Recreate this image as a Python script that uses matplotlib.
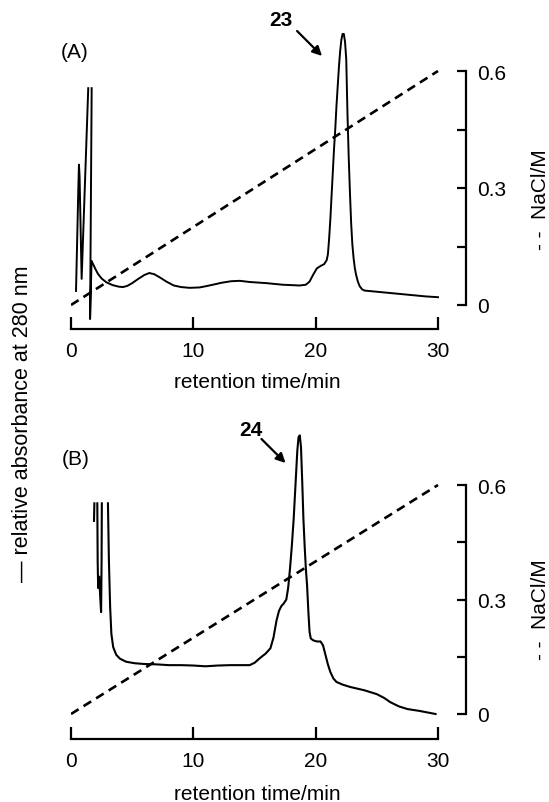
import numpy as np
import matplotlib
matplotlib.use('Agg')
import matplotlib.pyplot as plt

plt.rcParams['font.family'] = ['Liberation Sans', 'DejaVu Sans']

# ---------------- data ----------------
nan = np.nan
# Panel A absorbance trace (relative units on the NaCl scale)
time_a = [0.41, 0.60, 0.65, 0.70, 0.87, 1.41, nan, 1.69, 1.56, 1.68, 1.80, 2.00, 2.20, 2.50, 2.90, 3.40,
          3.90, 4.25, 4.60, 5.00, 5.50, 6.00, 6.40, 6.80, 7.30, 7.80, 8.40, 9.00, 9.70, 10.5, 11.0,
          11.6, 12.3, 13.1, 13.8, 14.6, 16.0, 17.3, 18.7, 19.2, 19.5, 19.8, 20.1, 20.4, 20.7, 20.9,
          21.0, 21.1, 21.2, 21.3, 21.4, 21.5, 21.6, 21.7, 21.8, 21.9, 22.0, 22.1, 22.2, 22.3, 22.4,
          22.5, 22.6, 22.7, 22.8, 22.9, 23.0, 23.1, 23.2, 23.3, 23.45, 23.6, 23.8, 24.0, 25.0, 27.0,
          29.0, 30.0]
abs_a = [0.036, 0.30, 0.36, 0.33, 0.067, 0.556, nan, 0.556, -0.036, 0.113, 0.105, 0.092, 0.080, 0.068, 0.058, 0.051,
         0.047, 0.046, 0.049, 0.056, 0.067, 0.077, 0.082, 0.079, 0.070, 0.060, 0.050, 0.046, 0.044, 0.045, 0.048,
         0.052, 0.057, 0.061, 0.062, 0.059, 0.056, 0.052, 0.050, 0.052, 0.060, 0.078, 0.094, 0.100, 0.105, 0.115,
         0.130, 0.170, 0.220, 0.280, 0.340, 0.400, 0.450, 0.510, 0.560, 0.610, 0.650, 0.680, 0.695, 0.695, 0.675,
         0.630, 0.490, 0.380, 0.290, 0.210, 0.155, 0.120, 0.095, 0.078, 0.060, 0.048, 0.040, 0.037, 0.034, 0.028,
         0.022, 0.020]

# Panel B absorbance trace
time_b = [1.88, 1.91, nan, 2.15, 2.18, 2.22, 2.30, 2.40, 2.46, 2.50, 2.52, nan,
          3.02, 3.10, 3.20, 3.30, 3.45, 3.70, 4.00, 4.50, 5.20, 6.00, 7.00, 8.00, 9.00,
          10.0, 11.0, 12.0, 13.0, 14.0, 14.6, 15.0, 15.5, 15.9, 16.3, 16.55, 16.8, 17.0, 17.2,
          17.4, 17.6, 17.75, 17.9, 18.05, 18.2, 18.35, 18.5, 18.6, 18.7, 18.8, 18.9, 19.0, 19.1,
          19.2, 19.3, 19.4, 19.5, 19.6, 19.8, 20.1, 20.4, 20.6, 20.8, 21.0, 21.2, 21.45, 21.7,
          22.2, 22.8, 24.0, 25.0, 25.6, 26.1, 26.8, 27.5, 28.5, 29.8]
abs_b = [0.506, 0.552, nan, 0.552, 0.40, 0.33, 0.36, 0.30, 0.267, 0.40, 0.552, nan,
         0.552, 0.40, 0.28, 0.21, 0.175, 0.155, 0.145, 0.137, 0.133, 0.131, 0.130, 0.128, 0.128,
         0.127, 0.125, 0.127, 0.128, 0.128, 0.128, 0.134, 0.148, 0.158, 0.172, 0.200, 0.245, 0.270, 0.283,
         0.290, 0.300, 0.330, 0.380, 0.440, 0.510, 0.600, 0.690, 0.725, 0.730, 0.700, 0.610, 0.510, 0.440,
         0.380, 0.336, 0.270, 0.215, 0.198, 0.193, 0.190, 0.190, 0.180, 0.155, 0.130, 0.110, 0.093, 0.084,
         0.077, 0.071, 0.062, 0.052, 0.042, 0.031, 0.020, 0.013, 0.008, 0.000]

# NaCl gradients (linear 0 -> 0.6 M over 30 min)
grad_time = [0, 30]
nacl_a = [0.0, 0.6]
nacl_b = [0.0, 0.6]

x_ticks = [0, 10, 20, 30]
y_ticks = [0, 0.15, 0.3, 0.45, 0.6]
y_ticklabels = ['0', '', '0.3', '', '0.6']

# ---------------- layout ----------------
W, H = 549, 803
fig = plt.figure(figsize=(W / 100, H / 100), dpi=100)


def make_axes(left, right, top, bottom):
    return fig.add_axes([left / W, 1 - bottom / H, (right - left) / W, (bottom - top) / H])


def style(ax, ylo, yhi, label_y):
    ax.set_xlim(0, 30 * (466 - 71) / (438 - 71))
    ax.set_ylim(ylo, yhi)
    for s in ['left', 'top']:
        ax.spines[s].set_visible(False)
    ax.spines['bottom'].set_bounds(0, 30)
    ax.spines['right'].set_bounds(0, 0.6)
    for s in ['bottom', 'right']:
        ax.spines[s].set_linewidth(1.6)
    ax.set_xticks(x_ticks)
    ax.set_xticklabels([str(v) for v in x_ticks])
    ax.yaxis.tick_right()
    ax.set_yticks(y_ticks)
    ax.set_yticklabels(y_ticklabels)
    ax.tick_params(axis='x', direction='in', length=8.5, width=1.6, pad=9, labelsize=15)
    ax.tick_params(axis='y', direction='in', length=6.5, width=1.6, pad=8, labelsize=15)
    ax.set_xlabel('retention time/min', fontsize=15)
    ax.xaxis.label.set_va('center')
    ax.xaxis.set_label_coords((257 - 71) / (466 - 71), label_y)


# Panel A: x0 at 71 px, y0 at 306 px, 0.6 at 72 px
axA = make_axes(71, 466, 20, 330)
sA = 0.6 / (306 - 72)
style(axA, -(330 - 306) * sA, (306 - 20) * sA, -(383 - 330) / (330 - 20))
axA.plot(time_a, abs_a, color='black', lw=1.4, clip_on=False)
axA.plot(grad_time, nacl_a, color='black', lw=1.9, ls=(0, (3.4, 2.2)))
axA.text(17.17, 0.7333, '23', fontsize=15, fontweight='bold', ha='center', va='center')
axA.annotate('', xy=(20.52, 0.6385), xytext=(18.48, 0.7026),
             arrowprops=dict(arrowstyle='-|>', color='black', lw=1.6, mutation_scale=14,
                             shrinkA=0, shrinkB=0))

# Panel B: y0 at 715 px, 0.6 at 486 px
axB = make_axes(71, 466, 420, 740)
sB = 0.6 / (715 - 486)
style(axB, -(740 - 715) * sB, (715 - 420) * sB, -(795 - 740) / (740 - 420))
axB.plot(time_b, abs_b, color='black', lw=1.5, clip_on=False)
axB.plot(grad_time, nacl_b, color='black', lw=1.9, ls=(0, (3.4, 2.2)))
axB.text(14.67, 0.7467, '24', fontsize=15, fontweight='bold', ha='center', va='center')
axB.annotate('', xy=(17.54, 0.6576), xytext=(15.57, 0.7205),
             arrowprops=dict(arrowstyle='-|>', color='black', lw=1.6, mutation_scale=14,
                             shrinkA=0, shrinkB=0))

# text labels
fig.text(75 / W, 1 - 53 / H, '(A)', fontsize=15, ha='center', va='center')
fig.text(76 / W, 1 - 460 / H, '(B)', fontsize=15, ha='center', va='center')
fig.text(23 / W, 1 - 424 / H, '— relative absorbance at 280 nm', fontsize=15.5, rotation=90,
         ha='center', va='center')
fig.text(540 / W, 1 - 200 / H, '- -  NaCl/M', fontsize=15, rotation=90, ha='center', va='center')
fig.text(540 / W, 1 - 610 / H, '- -  NaCl/M', fontsize=15, rotation=90, ha='center', va='center')

fig.savefig('out.png', dpi=100)
